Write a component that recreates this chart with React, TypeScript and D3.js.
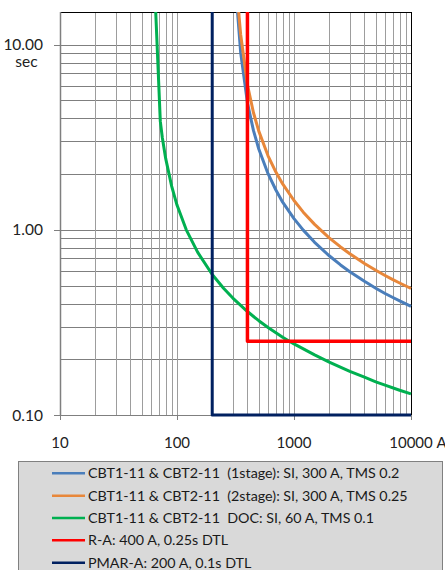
import React from "react";
import * as d3 from "d3";

// current (A) / time (s) points
const blueI = [325, 330, 350, 400, 450, 500, 600, 700, 800, 1000, 1200, 1500, 2000, 2500, 3000, 4000, 5000, 6000, 7000, 8000, 10000];
const blueT = [17.5, 14.67, 9.07, 4.85, 3.44, 2.73, 2.01, 1.64, 1.41, 1.15, 0.996, 0.856, 0.724, 0.646, 0.594, 0.527, 0.484, 0.453, 0.431, 0.413, 0.386];

const orangeI = [335, 340, 350, 400, 450, 500, 600, 700, 800, 1000, 1200, 1500, 2000, 2500, 3000, 4000, 5000, 6000, 7000, 8000, 10000];
const orangeT = [15.84, 13.96, 11.34, 6.07, 4.3, 3.41, 2.51, 2.05, 1.77, 1.44, 1.245, 1.07, 0.905, 0.808, 0.743, 0.658, 0.605, 0.567, 0.538, 0.516, 0.482];

const greenI = [65, 72, 75, 80, 90, 100, 120, 150, 200, 250, 300, 400, 500, 600, 800, 1000, 1500, 2000, 3000, 4000, 5000, 6000, 8000, 10000];
const greenT = [18, 3.85, 3.13, 2.43, 1.72, 1.36, 1.0, 0.757, 0.574, 0.484, 0.428, 0.362, 0.323, 0.297, 0.263, 0.242, 0.211, 0.193, 0.172, 0.16, 0.151, 0.145, 0.136, 0.13];

const redI = [400, 400, 10000];
const redT = [20, 0.25, 0.25];

const navyI = [200, 200, 10000];
const navyT = [20, 0.1, 0.1];

const series = [
  { name: "CBT1-11 & CBT2-11  (1stage): SI, 300 A, TMS 0.2", color: "#4a7ebb", xs: blueI, ys: blueT, w: 3 },
  { name: "CBT1-11 & CBT2-11  (2stage): SI, 300 A, TMS 0.25", color: "#e8873a", xs: orangeI, ys: orangeT, w: 3 },
  { name: "CBT1-11 & CBT2-11  DOC: SI, 60 A, TMS 0.1", color: "#00b050", xs: greenI, ys: greenT, w: 3 },
  { name: "R-A: 400 A, 0.25s DTL", color: "#ff0000", xs: redI, ys: redT, w: 3.5 },
  { name: "PMAR-A: 200 A, 0.1s DTL", color: "#002060", xs: navyI, ys: navyT, w: 3 },
];

const xTicks = [10, 100, 1000, 10000];
const yTicks = [0.1, 1, 10];

const FONT = "Lato, 'Open Sans', sans-serif";

export default function App() {
  const W = 445;
  const H = 570;
  const x = d3.scaleLog().domain([10, 10000]).range([60, 411]);
  const y = d3.scaleLog().domain([0.1, 15]).range([415, 12]);

  // minor grid values 2..9 per decade
  const xGrid: number[] = [];
  for (let d = 10; d < 10000; d *= 10) for (let k = 1; k <= 9; k++) xGrid.push(d * k);
  xGrid.push(10000);
  const yGrid: number[] = [];
  for (let d = 0.1; d < 15; d *= 10) for (let k = 1; k <= 9; k++) if (d * k <= 15) yGrid.push(d * k);

  const line = d3
    .line<[number, number]>()
    .x((d) => x(d[0]))
    .y((d) => y(d[1]));

  return (
    <svg width={W} height={H} style={{ position: "absolute", left: 0, top: 0 }} fontFamily={FONT}>
      <rect width={W} height={H} fill="#fff" />
      <defs>
        <clipPath id="plot">
          <rect x={55} y={12} width={365} height={415} />
        </clipPath>
      </defs>

      {/* grid */}
      {yGrid.map((v, i) => (
        <line key={"gy" + i} x1={60} x2={411} y1={Math.round(y(v)) + 0.5} y2={Math.round(y(v)) + 0.5} stroke="#7f7f7f" strokeWidth={1} />
      ))}
      {xGrid.map((v, i) => (
        <line key={"gx" + i} x1={Math.round(x(v)) + 0.5} x2={Math.round(x(v)) + 0.5} y1={12} y2={415} stroke="#9d9d9d" strokeWidth={1} />
      ))}

      {/* frame */}
      <line x1={60} x2={411} y1={12.5} y2={12.5} stroke="#000" strokeWidth={1} />
      <line x1={411.5} x2={411.5} y1={12} y2={415} stroke="#000" strokeWidth={1} />
      <line x1={60.5} x2={60.5} y1={12} y2={415} stroke="#7f7f7f" strokeWidth={1.5} />
      <line x1={60} x2={411} y1={415.5} y2={415.5} stroke="#7f7f7f" strokeWidth={1} />

      {/* ticks */}
      {yTicks.map((v) => (
        <g key={"yt" + v}>
          <line x1={54} x2={60} y1={Math.round(y(v)) + 0.5} y2={Math.round(y(v)) + 0.5} stroke="#7f7f7f" />
          <text x={43} y={y(v) + 5.5} textAnchor="end" fontSize={15.5} fill="#222">
            {v.toFixed(2)}
          </text>
        </g>
      ))}
      {xTicks.map((v) => (
        <g key={"xt" + v}>
          <line x1={Math.round(x(v)) + 0.5} x2={Math.round(x(v)) + 0.5} y1={415} y2={420} stroke="#7f7f7f" />
          <text x={x(v)} y={448} textAnchor="middle" fontSize={15} fill="#222">
            {v}
          </text>
        </g>
      ))}
      <text x={436.5} y={448} fontSize={15} fill="#222">A</text>
      <text x={26.5} y={67} textAnchor="middle" fontSize={15.5} fill="#222">sec</text>

      {/* curves */}
      <g clipPath="url(#plot)">
        {series.map((s) => (
          <path
            key={s.name}
            d={line(s.xs.map((v, i) => [v, s.ys[i]] as [number, number])) || ""}
            fill="none"
            stroke={s.color}
            strokeWidth={s.w}
            strokeLinejoin="round"
          />
        ))}
      </g>

      {/* legend */}
      <rect x={18.5} y={461.5} width={424} height={120} fill="#d9d9d9" stroke="#808080" />
      {series.map((s, i) => {
        const ly = 473.3 + i * 22.35;
        return (
          <g key={"lg" + i}>
            <line x1={52} x2={85} y1={ly} y2={ly} stroke={s.color} strokeWidth={2.5} />
            <text x={88} y={ly + 5} fontSize={14.3} fill="#1a1a1a" style={{ whiteSpace: "pre" }}>
              {s.name}
            </text>
          </g>
        );
      })}
    </svg>
  );
}
